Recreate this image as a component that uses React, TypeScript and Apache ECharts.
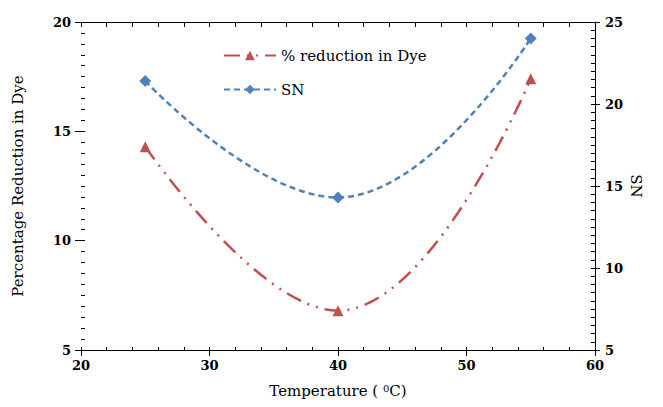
import React, { useEffect, useRef } from "react";
import * as echarts from "echarts";

const temperatures = [25, 40, 55];
const dyeReduction = [14.3, 6.8, 17.4];
const snValues = [21.4, 14.3, 24.0];
const xTicks = [20, 30, 40, 50, 60];
const leftTicks = [5, 10, 15, 20];
const rightTicks = [5, 10, 15, 20, 25];

const FONT = "DejaVu Serif";

export default function App() {
  const ref = useRef<HTMLDivElement>(null);
  useEffect(() => {
    if (!ref.current) return;
    const chart = echarts.init(ref.current, undefined, { renderer: "svg" });
    const labelStyle = { color: "#000", fontFamily: FONT, fontSize: 13, fontWeight: "bold" as const };
    const nameStyle = { color: "#000", fontFamily: FONT, fontSize: 15 };
    const blackLine = { lineStyle: { color: "#000", width: 1 } };
    const gridBox = { left: 81, right: 68, top: 22, bottom: 57 };
    chart.setOption({
      animation: false,
      backgroundColor: "#fff",
      textStyle: { fontFamily: FONT },
      grid: [gridBox, gridBox],
      legend: {
        orient: "vertical",
        left: 218,
        top: 43,
        itemGap: 19,
        itemWidth: 52,
        itemHeight: 12,
        textStyle: { color: "#000", fontFamily: FONT, fontSize: 15 },
        data: ["% reduction in Dye", "SN"],
      },
      xAxis: [
        {
          type: "value",
          gridIndex: 0,
          position: "bottom",
          min: xTicks[0],
          max: xTicks[xTicks.length - 1],
          interval: 10,
          axisLine: { show: true, ...blackLine },
          axisTick: { show: true, length: 6, ...blackLine },
          axisLabel: { ...labelStyle, margin: 9 },
          splitLine: { show: false },
          name: "Temperature ( {sup|0}C)",
          nameLocation: "middle",
          nameGap: 33,
          nameMoveOverlap: false,
          nameTextStyle: {
            ...nameStyle,
            rich: { sup: { fontFamily: FONT, fontSize: 10, color: "#000", verticalAlign: "top" } },
          },
        },
        {
          type: "value",
          gridIndex: 0,
          position: "top",
          min: 20,
          max: 60,
          interval: 2,
          axisLine: { show: true, ...blackLine },
          axisTick: { show: true, inside: true, length: 5, ...blackLine },
          axisLabel: { show: false },
          splitLine: { show: false },
        },
        {
          type: "value",
          gridIndex: 1,
          position: "bottom",
          min: 20,
          max: 60,
          interval: 2,
          axisLine: { show: false },
          axisLabel: { show: false },
          splitLine: { show: false },
          axisTick: { show: true, inside: true, length: 3, ...blackLine },
        },
      ],
      yAxis: [
        {
          type: "value",
          gridIndex: 0,
          position: "left",
          min: leftTicks[0],
          max: leftTicks[leftTicks.length - 1],
          interval: 5,
          axisLine: { show: false },
          axisTick: { show: true, length: 6, ...blackLine },
          axisLabel: { ...labelStyle, margin: 10 },
          splitLine: { show: false },
          name: "Percentage Reduction in Dye",
          nameLocation: "middle",
          nameGap: 56,
          nameMoveOverlap: false,
          nameTextStyle: nameStyle,
        },
        {
          type: "value",
          gridIndex: 0,
          position: "right",
          min: rightTicks[0],
          max: rightTicks[rightTicks.length - 1],
          interval: 5,
          axisLine: { show: true, ...blackLine },
          axisTick: { show: true, length: 5, ...blackLine },
          axisLabel: { ...labelStyle, margin: 10 },
          splitLine: { show: false },
          name: "SN",
          nameLocation: "middle",
          nameGap: 33,
          nameMoveOverlap: false,
          nameRotate: -90,
          nameTextStyle: nameStyle,
        },
        {
          type: "value",
          gridIndex: 1,
          position: "left",
          min: 5,
          max: 20,
          interval: 0.5,
          axisLine: { show: false },
          axisLabel: { show: false },
          splitLine: { show: false },
          axisTick: { show: true, inside: true, length: 4, ...blackLine },
        },
        {
          type: "value",
          gridIndex: 1,
          position: "right",
          min: 5,
          max: 25,
          interval: 0.5,
          axisLine: { show: false },
          axisLabel: { show: false },
          splitLine: { show: false },
          axisTick: { show: true, inside: true, length: 4, ...blackLine },
        },
      ],
      series: [
        {
          name: "% reduction in Dye",
          type: "line",
          xAxisIndex: 0,
          yAxisIndex: 0,
          smooth: 0.45,
          data: temperatures.map((t, i) => [t, dyeReduction[i]]),
          symbol: "triangle",
          symbolSize: 11,
          itemStyle: { color: "#C0504D" },
          lineStyle: { color: "#C0504D", width: 2.5, type: [16, 7, 2, 7, 2, 7] },
        },
        {
          name: "SN",
          type: "line",
          xAxisIndex: 0,
          yAxisIndex: 1,
          smooth: 0.45,
          data: temperatures.map((t, i) => [t, snValues[i]]),
          symbol: "diamond",
          symbolSize: 12,
          itemStyle: { color: "#4F81BD" },
          lineStyle: { color: "#4F81BD", width: 2.5, type: [6, 4] },
        },
      ],
    });
    return () => chart.dispose();
  }, []);
  return <div ref={ref} style={{ width: 663, height: 407, margin: -8 }} />;
}
